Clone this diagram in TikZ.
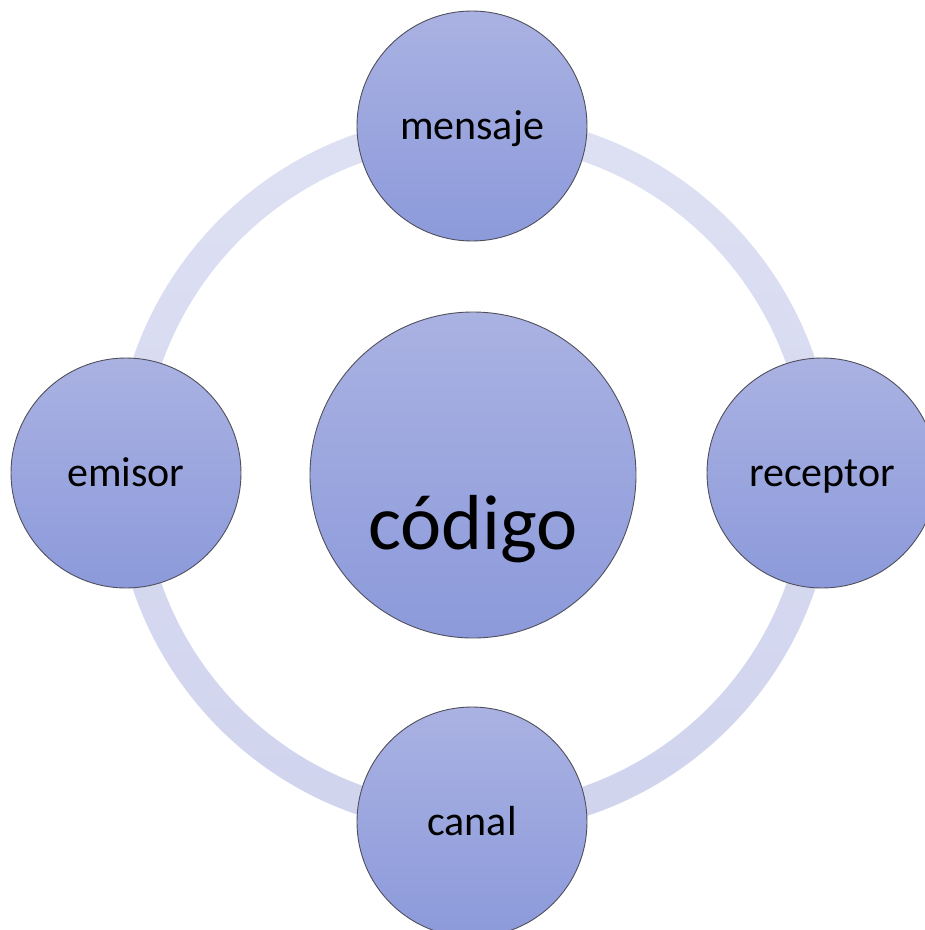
\documentclass[tikz,border=0pt]{standalone}
\usepackage{fontspec}
\setmainfont{Carlito}
\definecolor{ringtop}{RGB}{222,225,243}
\definecolor{ringbot}{RGB}{207,211,237}
\definecolor{disktop}{RGB}{170,178,226}
\definecolor{diskbot}{RGB}{140,154,219}
\definecolor{diskedge}{RGB}{80,80,92}
\begin{document}
\begin{tikzpicture}[x=1pt,y=-1pt,
  disk/.style={circle,draw=diskedge,line width=0.9pt,top color=disktop,bottom color=diskbot,
    minimum size=230pt,inner sep=0pt,font=\fontsize{42}{42}\selectfont,text height=31pt,text depth=5pt},
  bigdisk/.style={circle,draw=diskedge,line width=0.9pt,top color=disktop,bottom color=diskbot,
    minimum size=326pt,inner sep=0pt,font=\fontsize{78}{78}\selectfont,text height=150pt,text depth=2pt}]
\useasboundingbox (0,0) rectangle (925,930);
\coordinate (c) at (474,474);
\path[even odd rule,top color=ringtop,bottom color=ringbot] (c) circle (360) (c) circle (331);
\node[disk] (mensaje) at (472,126) {mensaje};
\node[disk] (emisor) at (126,473) {emisor};
\node[disk] (receptor) at (822,473) {receptor};
\node[disk] (canal) at (472,822) {canal};
\node[bigdisk] (codigo) at (473,475) {código};
\end{tikzpicture}
\end{document}
